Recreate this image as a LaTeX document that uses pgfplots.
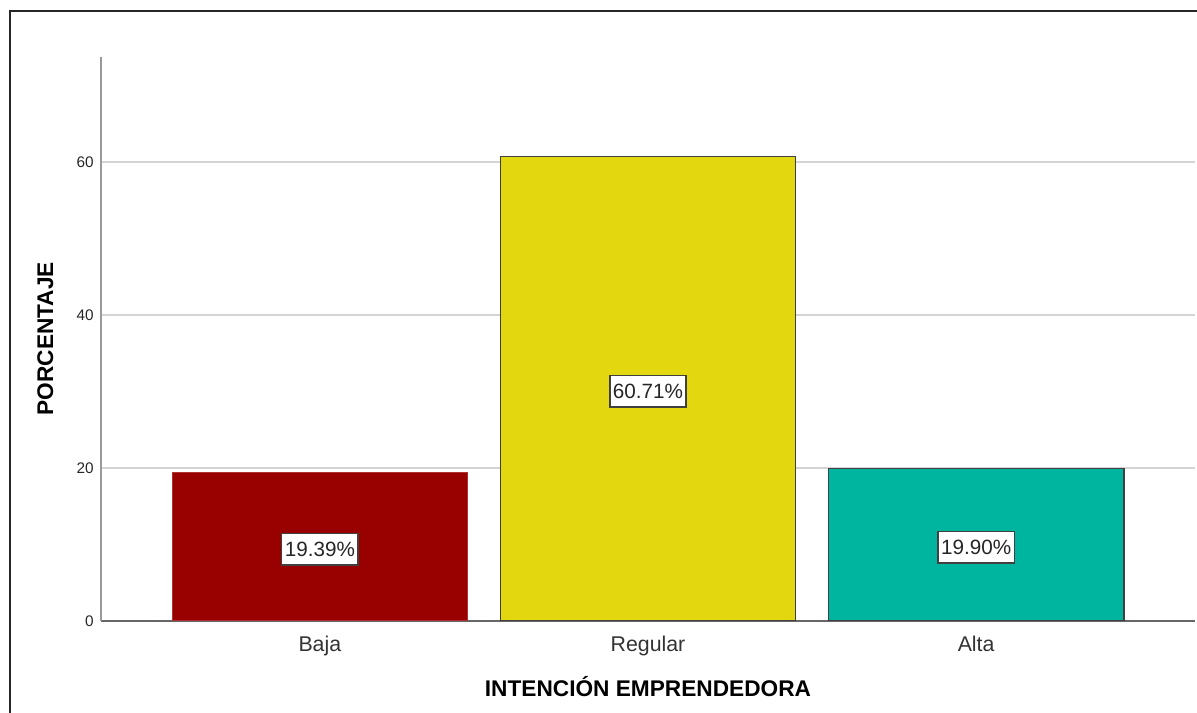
\documentclass[border=0pt]{standalone}
\usepackage{fontspec}
\setmainfont{Liberation Sans}
\usepackage{pgfplots}
\pgfplotsset{compat=1.18}
\definecolor{baja}{RGB}{153,0,0}
\definecolor{regular}{RGB}{227,215,15}
\definecolor{alta}{RGB}{0,181,160}
\definecolor{gridc}{RGB}{212,212,212}
\begin{document}
\begin{tikzpicture}
\path[use as bounding box] (0,0) rectangle (897.75pt,534.75pt);
\draw[line width=1.1pt, color=black!85] (7.5pt,-2pt) -- (7.5pt,526.5pt) -- (900pt,526.5pt);
\begin{axis}[
  at={(75.75pt,69.2pt)}, anchor=south west,
  scale only axis, width=820.5pt, height=422.8pt,
  xmin=-0.667, xmax=2.667, ymin=0, ymax=73.7,
  ybar, bar width=0.9, bar shift=0pt,
  axis x line*=bottom, axis y line*=left,
  x axis line style={line width=1.5pt, color=black!60, -},
  y axis line style={line width=1.5pt, color=black!40, -},
  xtick={0,1,2}, xticklabels={Baja,Regular,Alta},
  ytick={0,20,40,60},
  major tick length=0pt,
  ymajorgrids, grid style={color=gridc, line width=1.5pt},
  /pgf/number format/assume math mode=true,
  yticklabel style={font=\fontsize{11.5}{12}\selectfont, text=black!85, anchor=east, inner sep=0pt, xshift=-5.25pt},
  xticklabel style={font=\fontsize{16}{18}\selectfont, text=black!80, anchor=base, inner sep=0pt, yshift=-23.3pt},
  xlabel={INTENCIÓN EMPRENDEDORA},
  ylabel={PORCENTAJE},
  xlabel style={font=\bfseries\fontsize{17}{20}\selectfont, at={(axis description cs:0.5,0)}, anchor=base, inner sep=0pt, yshift=-57pt},
  ylabel style={font=\bfseries\fontsize{17}{20}\selectfont, at={(axis description cs:0,0.5)}, anchor=base, inner sep=0pt, yshift=36pt},
  visualization depends on={y \as \rawy},
  nodes near coords={\pgfmathprintnumber[fixed,fixed zerofill,precision=2,assume math mode=true]{\pgfplotspointmeta}\%},
  every node near coord/.append style={anchor=center, yshift={-\rawy*2.868pt-2pt}, fill=white, draw=black!75, line width=1.2pt,
    font=\fontsize{15.5}{17}\selectfont, text=black!85, inner xsep=2.4pt, inner ysep=0pt, minimum height=23.5pt},
]
\addplot[fill=baja, draw=baja!80!white, line width=0.8pt] coordinates {(0,19.39)};
\addplot[fill=regular, draw=black!75, line width=1.2pt] coordinates {(1,60.71)};
\addplot[fill=alta, draw=black!75, line width=1.2pt] coordinates {(2,19.90)};
\end{axis}
\end{tikzpicture}
\end{document}
